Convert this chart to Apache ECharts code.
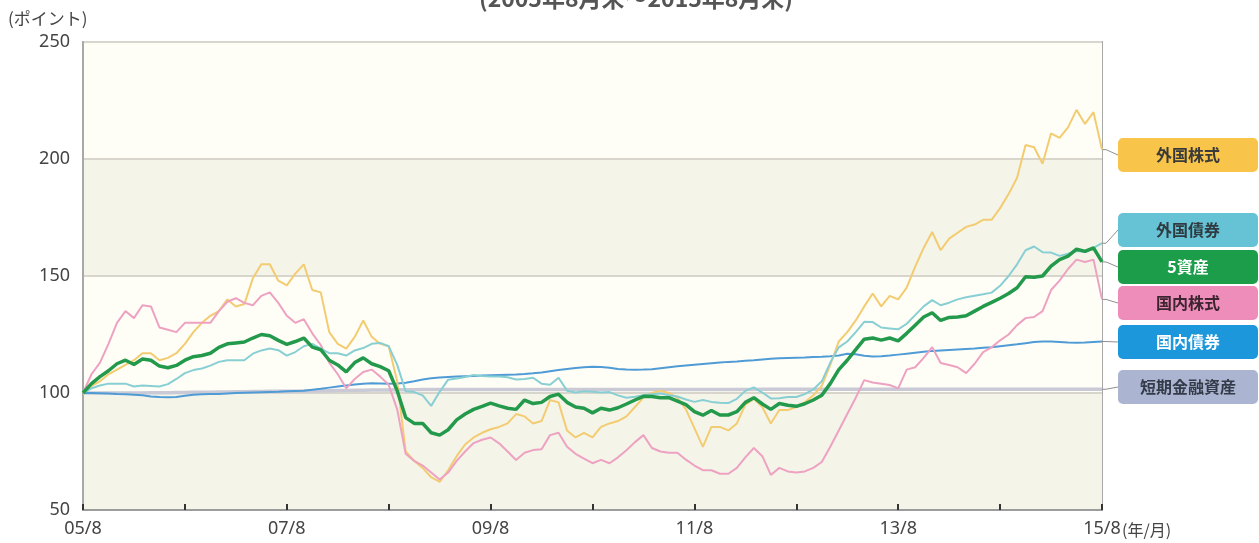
<!DOCTYPE html>
<html>
<head>
<meta charset="utf-8">
<script src="https://cdn.jsdelivr.net/npm/echarts@6/dist/echarts.min.js"></script>
<style>
  html, body { margin: 0; padding: 0; background: #fff; }
  #main { width: 1259px; height: 543px; }
</style>
</head>
<body>
<div id="main"></div>
<script>
// 月次 05/8 〜 15/8
const months = [];
for (let y = 2005; y <= 2015; y++) {
  for (let m = 1; m <= 12; m++) {
    if ((y === 2005 && m < 8) || (y === 2015 && m > 8)) continue;
    months.push(String(y).slice(2) + "/" + m);
  }
}

const yTicks = [50, 100, 150, 200, 250];

// 外国株式
const foreignStock = [
  100, 103, 105, 108, 110, 112, 114, 117, 117, 114,
  115, 117, 121, 126, 130, 133, 135, 140, 137, 138,
  149, 155, 155, 148, 146, 151, 155, 144, 143, 126,
  121, 119, 124, 131, 124, 121, 120, 105, 75, 71,
  68, 64, 62, 67, 73, 78, 81, 83, 84.5, 85.5,
  87, 91, 90, 87, 88, 97, 96, 84, 81, 83,
  81, 85.5, 87, 88, 90, 94, 98, 100, 101, 100,
  98, 93, 85, 77, 85.5, 85.5, 84, 87, 95, 97.5,
  94, 87, 92.7, 92.7, 94, 96, 99, 103, 112, 122,
  126, 131, 137, 142.5, 137, 141.5, 140, 145, 154, 162,
  168.8, 161, 166, 168.5, 171, 172, 174, 174, 179, 185,
  192, 206, 205, 198, 211, 209, 213.5, 221, 215, 220,
  204
];

// 外国債券
const foreignBond = [
  100, 102, 103.2, 104, 104, 104, 102.8, 103.2, 103, 102.8,
  103.8, 106, 108.5, 109.8, 110.5, 111.7, 113.3, 114, 114, 114,
  116.8, 118.2, 119, 118.3, 116, 117.5, 120, 121, 119, 117,
  117, 116, 118.2, 119.2, 121, 121.4, 120, 112, 100.7, 100.4,
  99, 94.5, 100.5, 105.7, 106.2, 106.8, 107.7, 107.3, 107, 107,
  106.7, 105.8, 106, 106.5, 104, 103.5, 106.5, 101, 100.2, 100.7,
  100.5, 100.2, 100.4, 99, 98, 98.4, 99, 99.5, 99.8, 99,
  98.5, 97.2, 96.2, 97, 96.2, 95.8, 95.7, 97.5, 100.9, 102.4,
  100.2, 97.7, 97.8, 98.3, 98.3, 99.5, 101.5, 105, 113, 119.5,
  122, 126, 130.4, 130.3, 128, 127.6, 127.2, 129.6, 133.3, 137,
  139.7, 137.5, 138.6, 140, 140.9, 141.6, 142.2, 142.9, 145.8, 150,
  155, 161, 162.6, 160.2, 160, 158.6, 159.5, 160.7, 160.2, 162,
  164
];

// 5資産
const fiveAssets = [
  100, 104, 107, 109.5, 112.5, 114, 112.2, 114.5, 114, 111.5,
  110.8, 111.8, 114, 115.5, 116, 117, 119.5, 121, 121.4, 121.8,
  123.5, 125, 124.5, 122.5, 120.8, 122, 123.5, 119.6, 118.5, 114,
  112, 109, 113, 115, 112.5, 111.3, 109.5, 101, 89.5, 87,
  87, 83, 82, 84.3, 88.5, 91, 93, 94.3, 95.7, 94.5,
  93.5, 93, 97, 95.5, 96, 98.5, 99.5, 96, 94, 93.5,
  91.5, 93.5, 92.7, 93.7, 95.3, 97, 98.6, 98.5, 98, 98,
  96.5, 95, 92, 90.5, 92.5, 90.6, 90.6, 92, 96, 98,
  95.3, 93, 95.5, 94.8, 94.3, 95.4, 97, 99, 104, 110,
  114, 118.5, 123, 123.5, 122.6, 123.5, 122.3, 125.5, 129, 132.5,
  134.3, 131, 132.3, 132.5, 133, 135, 137, 138.7, 140.5, 142.5,
  145, 149.7, 149.5, 150, 154.2, 157, 158.5, 161.5, 160.5, 162,
  156
];

// 国内株式
const domesticStock = [
  100, 108, 113, 121, 130, 135, 132, 137.5, 137, 128,
  127, 126, 130, 130, 130, 130, 135, 139, 140.5, 138.5,
  137.5, 141.5, 143, 138.5, 133, 130, 131.5, 125.5, 120.5, 113,
  108, 102, 106, 109, 110, 107, 103.5, 93, 74, 71,
  69, 66, 63, 66, 71, 75, 78.6, 80, 81, 78.5,
  75, 71.4, 74.5, 75.6, 76, 82, 83, 77, 74, 72,
  70, 71.4, 70, 72.5, 75.5, 79, 82, 76.5, 75, 74.5,
  74.5, 71.5, 69, 67, 67, 65.5, 65.5, 68, 72.5, 76.5,
  73, 65, 68, 66.5, 66, 66.5, 68, 70.5, 77, 84,
  91, 98, 105.5, 104.5, 104, 103.4, 102, 110, 111, 115,
  119.6, 112.8, 112, 111, 108.5, 112.5, 117.5, 119.5, 122.5, 125,
  129, 132, 132.5, 135, 144, 148, 153, 157, 156, 157,
  140
];

// 国内債券
const domesticBond = [
  100, 100, 99.9, 99.8, 99.6, 99.5, 99.3, 99, 98.5, 98.3,
  98.2, 98.3, 98.8, 99.3, 99.5, 99.6, 99.6, 99.8, 100, 100.1,
  100.2, 100.3, 100.4, 100.5, 100.7, 100.9, 101, 101.4, 101.8, 102.3,
  102.8, 103.2, 103.6, 104, 104.2, 104.1, 104, 104.1, 104.4, 105,
  105.8, 106.3, 106.6, 106.8, 107, 107.2, 107.3, 107.5, 107.6, 107.7,
  107.8, 107.9, 108.1, 108.4, 108.8, 109.3, 109.8, 110.3, 110.7, 111,
  111.2, 111.1, 110.8, 110.3, 110, 109.9, 110, 110.2, 110.6, 111,
  111.4, 111.8, 112.1, 112.4, 112.7, 113, 113.3, 113.5, 113.8, 114,
  114.3, 114.6, 114.8, 115, 115.1, 115.2, 115.4, 115.5, 115.7, 116,
  116.8, 116.6, 115.9, 115.6, 115.7, 116, 116.4, 116.8, 117.2, 117.6,
  118, 118.2, 118.4, 118.6, 118.8, 119, 119.3, 119.6, 120, 120.4,
  120.8, 121.3, 121.8, 122, 122, 121.8, 121.6, 121.5, 121.6, 121.8,
  122
];

// 短期金融資産
const shortTerm = [
  100, 100, 100, 100, 100, 100, 100, 100, 100.1, 100.1,
  100.1, 100.2, 100.2, 100.3, 100.3, 100.3, 100.4, 100.4, 100.5, 100.5,
  100.6, 100.6, 100.7, 100.7, 100.8, 100.8, 100.9, 100.9, 101, 101,
  101.1, 101.1, 101.2, 101.2, 101.3, 101.3, 101.3, 101.4, 101.4, 101.4,
  101.5, 101.5, 101.5, 101.5, 101.5, 101.5, 101.5, 101.5, 101.5, 101.5,
  101.5, 101.5, 101.5, 101.5, 101.5, 101.5, 101.5, 101.5, 101.5, 101.5,
  101.5, 101.5, 101.5, 101.5, 101.5, 101.5, 101.5, 101.5, 101.5, 101.5,
  101.5, 101.5, 101.5, 101.5, 101.5, 101.5, 101.5, 101.5, 101.5, 101.5,
  101.6, 101.6, 101.6, 101.6, 101.6, 101.6, 101.6, 101.6, 101.6, 101.6,
  101.6, 101.6, 101.6, 101.6, 101.6, 101.6, 101.6, 101.6, 101.6, 101.6,
  101.6, 101.6, 101.6, 101.6, 101.6, 101.6, 101.6, 101.6, 101.6, 101.6,
  101.6, 101.6, 101.6, 101.6, 101.6, 101.6, 101.6, 101.6, 101.6, 101.6,
  101.6
];

const numFont = '"Noto Sans", sans-serif';
const jpFont = '"Noto Sans CJK JP", sans-serif';

// series order: drawn bottom -> top
const seriesDefs = [
  { name: "短期金融資産", data: shortTerm, color: "#c9cad6", width: 3.5 },
  { name: "国内債券", data: domesticBond, color: "#4f9bd6", width: 2 },
  { name: "外国株式", data: foreignStock, color: "#f3cc72", width: 2 },
  { name: "国内株式", data: domesticStock, color: "#eda2c2", width: 2 },
  { name: "外国債券", data: foreignBond, color: "#88cfd4", width: 2 },
  { name: "5資産", data: fiveAssets, color: "#22994b", width: 3.5 },
];

// right side tags (center y in px)
const tags = [
  { name: "外国株式", series: 2, y: 155, bg: "#f8c44a", fg: "#3a3a3a" },
  { name: "外国債券", series: 4, y: 230, bg: "#66c3d6", fg: "#2f3b40" },
  { name: "5資産", series: 5, y: 267, bg: "#1c9d4a", fg: "#ffffff" },
  { name: "国内株式", series: 3, y: 303, bg: "#ef8dba", fg: "#3d2530" },
  { name: "国内債券", series: 1, y: 342, bg: "#1d97dc", fg: "#ffffff" },
  { name: "短期金融資産", series: 0, y: 387, bg: "#abb4d1", fg: "#333a48" },
];

const myChart = echarts.init(document.getElementById("main"));

const option = {
  animation: false,
  grid: {
    left: 83,
    right: 157,
    top: 42,
    bottom: 33,
    show: true,
    borderColor: "#a8a8a8",
    borderWidth: 2,
    backgroundColor: "transparent",
  },
  xAxis: {
    type: "category",
    data: months,
    boundaryGap: false,
    axisLine: { lineStyle: { color: "#9c9c9c", width: 2 } },
    axisTick: {
      inside: true,
      length: 6,
      interval: (i) => i % 12 === 0,
      lineStyle: { color: "#333", width: 2 },
    },
    axisLabel: {
      interval: (i) => i % 24 === 0,
      color: "#444",
      fontSize: 18,
      fontFamily: numFont,
      margin: 10,
    },
    splitLine: { show: false },
  },
  yAxis: {
    type: "value",
    min: yTicks[0],
    max: yTicks[yTicks.length - 1],
    interval: 50,
    axisLine: { show: true, lineStyle: { color: "#a8a8a8", width: 2 } },
    axisTick: { show: false },
    axisLabel: { color: "#444", fontSize: 18, fontFamily: numFont, margin: 13 },
    splitLine: { lineStyle: { color: "#d8d6cc", width: 2 } },
    splitArea: { show: true, areaStyle: { color: ["#f5f4e9", "#fffef6"] } },
  },
  series: seriesDefs.map((s) => ({
    name: s.name,
    type: "line",
    data: s.data,
    showSymbol: false,
    silent: true,
    lineStyle: { color: s.color, width: s.width },
    itemStyle: { color: s.color },
  })),
};

myChart.setOption(option);

// タグと引き出し線
const tagLeft = 1118;
const tagW = 140;
const tagH = 34;
const elements = [
  {
    type: "text",
    x: 636,
    y: 10,
    style: {
      text: "(2005年8月末～2015年8月末)",
      font: 'bold 23px ' + jpFont,
      fill: "#555",
      align: "center",
      verticalAlign: "bottom",
    },
  },
  {
    type: "text",
    x: 8,
    y: 19,
    style: { text: "(ポイント)", font: '17px ' + jpFont, fill: "#444", align: "left", verticalAlign: "middle" },
  },
  {
    type: "text",
    x: 1122,
    y: 530,
    style: { text: "(年/月)", font: '16px ' + jpFont, fill: "#444", align: "left", verticalAlign: "middle" },
  },
];
tags.forEach((t) => {
  const d = seriesDefs[t.series].data;
  const p = myChart.convertToPixel({ seriesIndex: t.series }, [d.length - 1, d[d.length - 1]]);
  elements.push({
    type: "polyline",
    shape: { points: [[p[0], p[1]], [p[0] + 4, p[1]], [tagLeft, t.y]] },
    style: { stroke: "#8f8f8f", lineWidth: 1, fill: null },
  });
  elements.push({
    type: "rect",
    shape: { x: tagLeft, y: t.y - tagH / 2, width: tagW, height: tagH, r: 5 },
    style: { fill: t.bg },
  });
  elements.push({
    type: "text",
    x: tagLeft + tagW / 2,
    y: t.y,
    style: { text: t.name, font: 'bold 16px ' + jpFont, fill: t.fg, align: "center", verticalAlign: "middle" },
  });
});
myChart.setOption({ graphic: { elements: elements } });
</script>
</body>
</html>
